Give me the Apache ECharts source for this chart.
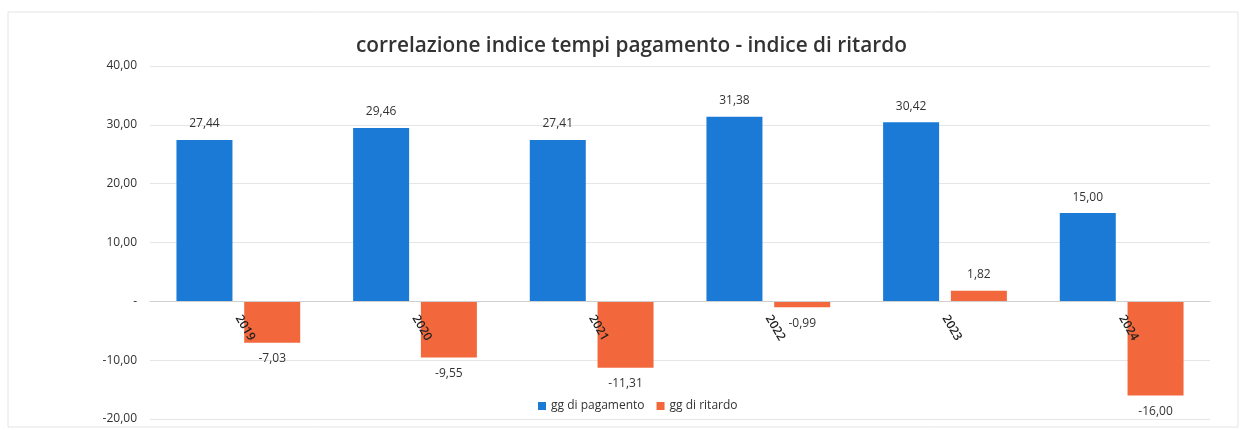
<!DOCTYPE html>
<html>
<head>
<meta charset="utf-8">
<script src="https://cdn.jsdelivr.net/npm/echarts@6/dist/echarts.min.js"></script>
<style>
  html, body { margin: 0; padding: 0; background: #fff; }
  #chart { width: 1246px; height: 430px; }
</style>
</head>
<body>
<div id="chart"></div>
<script>
// dati
var anni = ['2019', '2020', '2021', '2022', '2023', '2024'];
var ggPagamento = [27.44, 29.46, 27.41, 31.38, 30.42, 15.00];
var ggRitardo = [-7.03, -9.55, -11.31, -0.99, 1.82, -16.00];

function fmt(v) {
    if (v === 0) return '-';
    return v.toFixed(2).replace('.', ',');
}

// etichetta sotto la barra se il valore e' negativo
function dataHandle(arr) {
    var out = [];
    for (var i = 0; i < arr.length; i++) {
        out.push({
            value: arr[i],
            label: { position: arr[i] < 0 ? 'bottom' : 'top' }
        });
    }
    return out;
}

var chart = echarts.init(document.getElementById('chart'));

var labelStyle = {
    show: true,
    color: '#333',
    fontSize: 12,
    fontFamily: 'Open Sans',
    distance: 10,
    formatter: function (p) { return fmt(p.value); }
};

var option = {
    animation: false,
    title: {
        text: 'correlazione indice tempi pagamento - indice di ritardo',
        left: 351,
        top: 31,
        textStyle: {
            color: '#333',
            fontSize: 20.8,
            fontWeight: 600,
            fontFamily: 'Open Sans'
        }
    },
    graphic: [{
        type: 'rect',
        shape: { x: 8, y: 12, width: 1230, height: 415 },
        style: { fill: 'none', stroke: '#e4e4e4', lineWidth: 1 },
        silent: true
    }],
    legend: {
        bottom: 13,
        left: 533,
        itemWidth: 8,
        itemHeight: 8,
        itemGap: 12,
        icon: 'rect',
        textStyle: { color: '#333', fontSize: 12, fontFamily: 'Open Sans' }
    },
    grid: {
        left: 150,
        right: 36,
        top: 66,
        bottom: 11,
        outerBoundsMode: 'none',
        containLabel: false
    },
    xAxis: {
        type: 'category',
        data: anni,
        z: 10,
        axisLine: { onZero: true, lineStyle: { color: '#cfcfcf' } },
        axisTick: { show: false },
        axisLabel: {
            rotate: -60,
            color: '#222',
            fontSize: 12,
            fontWeight: 600,
            fontFamily: 'Open Sans',
            // le etichette restano in basso: le porto sulla linea dello zero
            margin: -103
        }
    },
    yAxis: {
        type: 'value',
        min: -20,
        max: 40,
        interval: 10,
        axisLine: { show: false },
        axisTick: { show: false },
        splitLine: { lineStyle: { color: '#e6e6e6' } },
        axisLabel: {
            color: '#333',
            fontSize: 12,
            fontFamily: 'Open Sans',
            margin: 13,
            formatter: fmt
        }
    },
    series: [
        {
            name: 'gg di pagamento',
            type: 'bar',
            barWidth: 56,
            barGap: '21%',
            itemStyle: { color: '#1a7ad6' },
            label: labelStyle,
            data: dataHandle(ggPagamento)
        },
        {
            name: 'gg di ritardo',
            type: 'bar',
            barWidth: 56,
            itemStyle: { color: '#f2683c' },
            label: labelStyle,
            data: dataHandle(ggRitardo)
        }
    ]
};

chart.setOption(option);
</script>
</body>
</html>
